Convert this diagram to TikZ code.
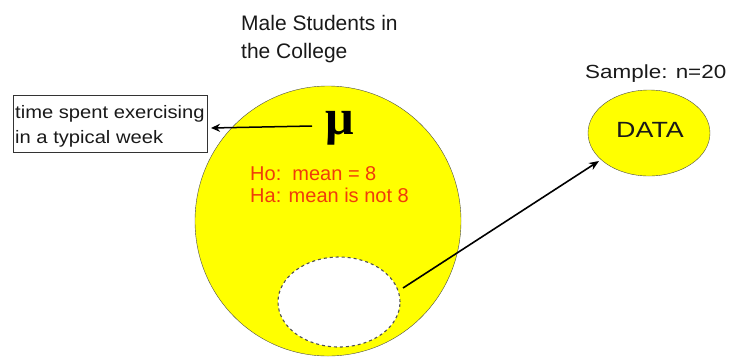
\documentclass[tikz,border=0pt]{standalone}
\usepackage{fontspec}
\setmainfont{Liberation Sans}
\newfontfamily\muserif{Liberation Serif}
\usetikzlibrary{arrows.meta,shapes.geometric}
\definecolor{yel}{RGB}{255,255,0}
\definecolor{redtxt}{RGB}{240,60,10}
\definecolor{dashgray}{RGB}{80,80,80}
\definecolor{txtgray}{RGB}{25,25,25}
\begin{document}
\begin{tikzpicture}[x=1pt,y=-1pt,
  lbl/.style={inner sep=0pt,anchor=base west,text=txtgray},
  redlbl/.style={inner sep=0pt,anchor=base west,text=redtxt,font=\fontsize{20}{22}\selectfont},
  boxlbl/.style={inner sep=0pt,anchor=base west,text=txtgray,xscale=1.12,font=\fontsize{18}{20}\selectfont},
  conn/.style={draw=black,line width=1.6pt,-{Stealth[length=10pt,width=8pt]}}]
\useasboundingbox (0,0) rectangle (735,360);
% big population circle
\node[draw=black!70,fill=yel,ellipse,minimum width=266pt,minimum height=270pt,inner sep=0pt] (pop) at (328,221) {};
% sample (dashed white)
\node[draw=dashgray,dashed,line width=1.1pt,fill=white,ellipse,minimum width=122pt,minimum height=90pt,inner sep=0pt] (samp) at (339,302) {};
% data ellipse
\node[draw=black!70,fill=yel,ellipse,minimum width=122pt,minimum height=86pt,inner sep=0pt] (data) at (649,133) {};
\node[inner sep=0pt,text=txtgray,xscale=1.22,font=\fontsize{22}{24}\selectfont] (datat) at (650,130) {DATA};
% titles
\node[lbl,font=\fontsize{21}{23}\selectfont] (t1) at (241,30) {Male Students in};
\node[lbl,font=\fontsize{21}{23}\selectfont] (t2) at (241,58) {the College};
\node[lbl,xscale=1.18,font=\fontsize{19}{21}\selectfont] (smp) at (585,78) {Sample: n=20};
% mu
\node[inner sep=0pt,scale=1.4,font=\muserif\bfseries\fontsize{36}{38}\selectfont] (mu) at (340,128) {μ};
% box
\node[draw=black!80,line width=0.8pt,minimum width=194pt,minimum height=57pt,inner sep=0pt] (box) at (110,124) {};
\node[boxlbl] (bt1) at (15,118) {time spent exercising};
\node[boxlbl] (bt2) at (15,143) {in a typical week};
% red hypotheses
\node[redlbl] (ho) at (250,180) {Ho:\ \ mean = 8};
\node[redlbl] (ha) at (250,202) {Ha: mean is not 8};
% connectors
\coordinate (mul) at (312,126);
\coordinate (boxr) at (211,128);
\draw[conn,line width=1.5pt,-{Stealth[length=9pt,width=8pt]}] (mul) -- (boxr);
\coordinate (ss) at (403,288);
\coordinate (de) at (599,161);
\draw[conn] (ss) -- (de);
\end{tikzpicture}
\end{document}
